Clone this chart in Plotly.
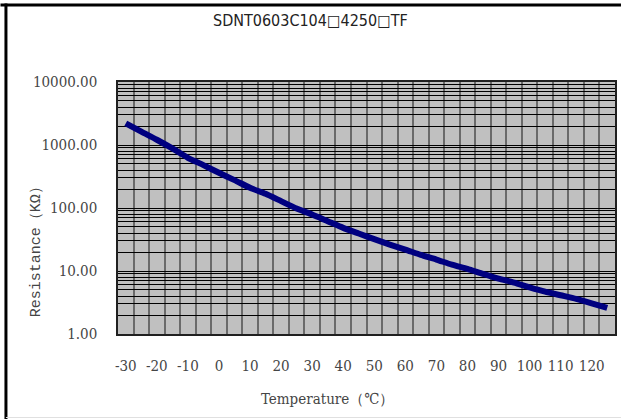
import plotly.graph_objects as go

# ---- data ----
temperatures = [-30, -25, -20, -15, -10, -5, 0, 5, 10, 15, 20, 25, 30, 35, 40, 45,
                50, 55, 60, 65, 70, 75, 80, 85, 90, 95, 100, 105, 110, 115, 120, 125]
resistance_kohm = [2203, 1626, 1212, 883, 627, 480, 362, 277, 209, 168, 128.5, 98.2,
                   78.8, 61.8, 48.4, 39.3, 32.0, 26.3, 21.9, 18.0, 15.2, 12.6, 10.8,
                   8.99, 7.57, 6.54, 5.52, 4.71, 4.12, 3.60, 3.07, 2.59]
x_tick_vals = [-30, -20, -10, 0, 10, 20, 30, 40, 50, 60, 70, 80, 90, 100, 110, 120]
y_tick_vals = [1, 10, 100, 1000, 10000]
y_tick_text = ["1.00", "10.00", "100.00", "1000.00", "10000.00"]
title_text = "SDNT0603C104\u25a14250\u25a1TF"
x_title = "Temperature\uff08\u2103\uff09"
y_title = "Resistance\uff08K\u03a9\uff09"

W, H = 623, 419
L, R, T, B = 118, 6, 82, 85
PW, PH = W - L - R, H - T - B

def px(x):
    return (x - L) / PW

def py(y):
    return (H - B - y) / PH

tick_font = dict(family="DejaVu Serif Condensed, Liberation Serif, serif", size=15, color="#454545")

minor_y = [k * 10 ** n for n in range(0, 4) for k in range(2, 10)]

fig = go.Figure()
fig.add_trace(go.Scatter(
    x=temperatures, y=resistance_kohm, mode="lines",
    line=dict(color="#000080", width=6, shape="spline", smoothing=0.6),
    showlegend=False, hoverinfo="x+y",
))

fig.update_layout(
    width=W, height=H,
    margin=dict(l=L, r=R, t=T, b=B, pad=0),
    paper_bgcolor="white",
    plot_bgcolor="#c0c0c0",
    showlegend=False,
    xaxis=dict(
        range=[-32.5, 127.5], tickvals=x_tick_vals,
        ticktext=[str(v) for v in x_tick_vals],
        showgrid=False, zeroline=False,
        ticks="outside", ticklen=17, tickcolor="rgba(0,0,0,0)",
        tickfont=tick_font,
        showline=True, linecolor="#202020", linewidth=1.5, mirror=True,
        minor=dict(tick0=-32.5, dtick=5, showgrid=True, gridcolor="#6a6a6a", gridwidth=1.6, ticks=""),
        fixedrange=True,
    ),
    yaxis=dict(
        type="log", range=[0, 4], tickvals=y_tick_vals, ticktext=y_tick_text,
        showgrid=True, gridcolor="#000000", gridwidth=1.2, zeroline=False,
        ticks="outside", ticklen=16, tickcolor="rgba(0,0,0,0)",
        tickfont=tick_font,
        showline=True, linecolor="#202020", linewidth=1.5, mirror=True,
        minor=dict(tickvals=minor_y, showgrid=True, gridcolor="#000000", gridwidth=1, ticks=""),
        fixedrange=True,
    ),
    annotations=[
        dict(text=title_text, xref="paper", yref="paper", x=px(311.5), y=py(20),
             showarrow=False, xanchor="center", yanchor="middle",
             font=dict(family="DejaVu Sans Condensed, Liberation Sans, Arial, sans-serif", size=16, color="#222222")),
        dict(text=x_title, xref="paper", yref="paper", x=px(328), y=py(399),
             showarrow=False, xanchor="center", yanchor="middle",
             font=dict(family="DejaVu Serif Condensed, Liberation Serif, serif", size=15, color="#454545")),
        dict(text=y_title, xref="paper", yref="paper", x=px(36), y=py(248),
             showarrow=False, xanchor="center", yanchor="middle", textangle=-90,
             font=dict(family="Liberation Mono, monospace", size=15, color="#454545")),
    ],
    shapes=[
        dict(type="line", xref="paper", yref="paper", x0=px(0), x1=px(623), y0=py(5), y1=py(5),
             line=dict(color="black", width=3)),
        dict(type="line", xref="paper", yref="paper", x0=px(5.5), x1=px(5.5), y0=py(3.5), y1=py(419),
             line=dict(color="black", width=3)),
        dict(type="line", xref="paper", yref="paper", x0=px(5.5), x1=px(623), y0=py(417.5), y1=py(417.5),
             line=dict(color="#e0e0e0", width=1)),
    ],
)

fig.write_html("out.html", config={"displayModeBar": False},
               post_script="document.body.style.margin='0';document.body.style.overflow='hidden';")
